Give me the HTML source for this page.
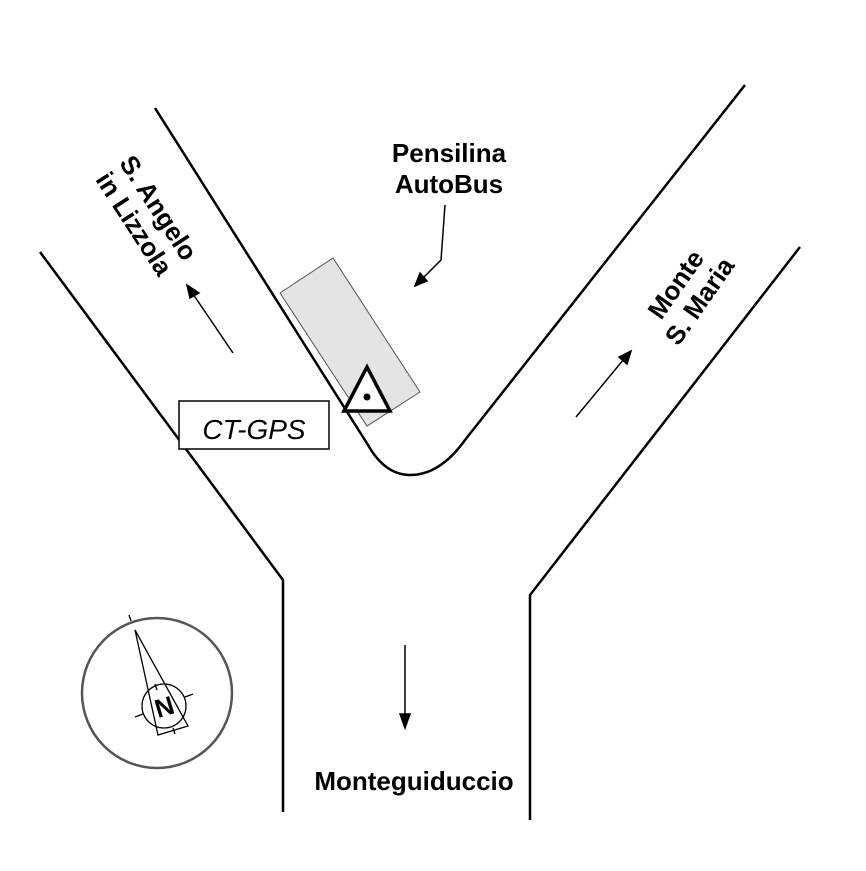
<!DOCTYPE html>
<html><head><style>body{margin:0;background:#fff}</style></head><body>
<svg width="866" height="866" xmlns="http://www.w3.org/2000/svg" font-family="Liberation Sans, Arial, sans-serif">
<rect width="866" height="866" fill="#fff"/>
<g fill="none" stroke="#000" stroke-width="2.5">
<polyline points="40,252 283,580 283,812"/>
<polyline points="800,247 530,595 530,820"/>
<path d="M155,108 L368,445 Q385,475 410,475 Q440,475 465,440 L745,85"/>
</g>
<polygon points="280,293 333,258 420,392 367,426" fill="#e4e4e4" stroke="#555" stroke-width="1"/>
<polygon points="367,367 344,411 390,411" fill="#fff" stroke="#000" stroke-width="3.5" stroke-linejoin="miter"/>
<circle cx="367" cy="397" r="3.5" fill="#000"/>
<rect x="179" y="401" width="150" height="48" fill="#fff" stroke="#000" stroke-width="1.5"/>
<text x="254" y="439" font-size="28" font-style="italic" text-anchor="middle">CT-GPS</text>
<g stroke="#000" stroke-width="1.5" fill="#000">
<line x1="233" y1="353" x2="193" y2="294"/><polygon points="187,285 199,293 190,298"/>
<line x1="576" y1="417" x2="624" y2="359"/><polygon points="631,351 627,364 619,357"/>
<line x1="405" y1="645" x2="405" y2="718"/><polygon points="405,728 400,714 410,714"/>
<polyline points="445,205 441,260 422,279" fill="none"/><polygon points="415,286 420,273 427,281"/>
</g>
<g font-weight="bold" font-size="26" text-anchor="middle">
<text x="449" y="162">Pensilina</text>
<text x="449" y="193">AutoBus</text>
<text x="414" y="790">Monteguiduccio</text>
<g transform="translate(146,216) rotate(57)"><text x="0" y="-6">S. Angelo</text><text x="0" y="23">in Lizzola</text></g>
<g transform="translate(688,293) rotate(-55)"><text x="0" y="-6">Monte</text><text x="0" y="23">S. Maria</text></g>
</g>
<circle cx="157" cy="693" r="75" fill="none" stroke="#555" stroke-width="2.5"/>
<g stroke="#000" stroke-width="1.3" fill="none">
<line x1="129" y1="615" x2="131" y2="621"/>
<polygon points="135,630 158,735 188,726"/>
<circle cx="164" cy="706" r="22"/>
<line x1="135" y1="717" x2="143" y2="714"/><line x1="185" y1="697" x2="193" y2="694"/>
<line x1="155" y1="684" x2="157" y2="690"/><line x1="173" y1="728" x2="175" y2="734"/>
</g>
<text x="164" y="716" font-size="26" font-weight="bold" text-anchor="middle" transform="rotate(-17 164 706)">N</text>
</svg>
</body></html>
